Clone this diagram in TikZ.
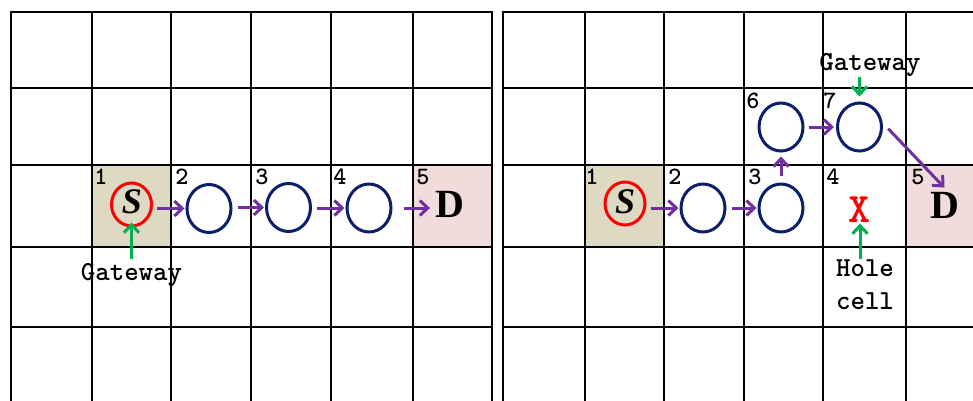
\documentclass[tikz,border=0pt]{standalone}
\usepackage{fontspec}
\setmainfont{Liberation Serif}
\newfontfamily\courfnt{lmmonolt10-bold.otf}
\usetikzlibrary{arrows.meta,shapes.geometric}
\definecolor{tanfill}{HTML}{DDD9C3}
\definecolor{pinkfill}{HTML}{F2DCDB}
\definecolor{navy}{HTML}{0A1F6B}
\definecolor{pathpurple}{HTML}{7030A0}
\definecolor{gwgreen}{HTML}{00B050}
\tikzset{
 gridline/.style={line width=1.7pt, black, line cap=rect},
 hop/.style={ellipse, draw=navy, line width=3pt, minimum width=44pt, minimum height=48pt, inner sep=0pt},
 srcring/.style={ellipse, draw=red, line width=3pt, minimum width=40pt, minimum height=43pt, inner sep=0pt},
 num/.style={anchor=base, font=\courfnt\fontsize{25}{25}\selectfont, inner sep=0pt},
 lbl/.style={font=\courfnt\fontsize{27.5}{33}\selectfont, align=center},
 bigletter/.style={anchor=base, font=\bfseries\fontsize{40}{40}\selectfont},
 sletter/.style={anchor=base, font=\bfseries\itshape\fontsize{36}{36}\selectfont},
 holemark/.style={anchor=base, text=red, font=\courfnt\fontsize{42}{42}\selectfont},
 parr/.style={draw=pathpurple, line width=3pt, -{Straight Barb[length=8pt,width=15pt]}},
 garr/.style={draw=gwgreen, line width=3pt, -{Straight Barb[length=8pt,width=15pt]}},
}
\begin{document}
\begin{tikzpicture}[x=1pt,y=-1pt]
\useasboundingbox (0,0) rectangle (973,400);
\clip (0,0) rectangle (973,400);
\fill[white] (0,0) rectangle (973,400);
% cell fills
\fill[tanfill] (92,165) rectangle (171,247);
\fill[pinkfill] (413,165) rectangle (492,247);
\fill[tanfill] (585,165) rectangle (664,247);
\fill[pinkfill] (906,165) rectangle (980,247);
% left grid
\foreach \x in {11,92,171,251,331,413,492} \draw[gridline] (\x,12) -- (\x,410);
\foreach \y in {12,88,165,247,327} \draw[gridline] (11,\y) -- (492,\y);
% right grid
\foreach \x in {503,585,664,744,823,906} \draw[gridline] (\x,12) -- (\x,410);
\foreach \y in {12,88,165,247,327} \draw[gridline] (503,\y) -- (985,\y);

% ---------- left panel ----------
\node[srcring] (sL) at (131.5,204.5) {};
\node[sletter] (sLt) at (132,213) {S};
\node[hop] (l2) at (209,208.5) {};
\node[hop] (l3) at (288.5,207.5) {};
\node[hop] (l4) at (369,208) {};
\node[bigletter] (lD) at (450,217) {D};
\node[num] (n1L) at (101,184) {1};
\node[num] (n2L) at (182,184) {2};
\node[num] (n3L) at (262,184) {3};
\node[num] (n4L) at (340,184) {4};
\node[num] (n5L) at (423,184) {5};
\node[lbl, anchor=base] (gwL) at (131.5,280) {Gateway};

\draw[parr, shorten <=4pt, shorten >=1pt] (sL.east |- l2.west) -- (l2.west);
\draw[parr, shorten <=5pt, shorten >=1pt] (l2.east |- l3.west) -- (l3.west);
\draw[parr, shorten <=5pt, shorten >=1pt] (l3.east |- l4.west) -- (l4.west);
\draw[parr, shorten <=11pt, shorten >=2pt] (l4.east) -- (lD.west |- l4.east);
\draw[garr, shorten >=-5pt] (gwL.north -| sL.south) -- (sL.south);

% ---------- right panel ----------
\node[srcring] (sR) at (625,203.5) {};
\node[sletter] (sRt) at (625,213) {S};
\node[hop] (r2) at (703,208) {};
\node[hop] (r3) at (781,208) {};
\node[hop] (r6) at (781,127) {};
\node[hop] (r7) at (859.5,127) {};
\node[bigletter] (rD) at (945,218) {D};
\node[holemark] (xm) at (860,222) {X};
\node[num] (n1R) at (592,184) {1};
\node[num] (n2R) at (675,184) {2};
\node[num] (n3R) at (755,184) {3};
\node[num] (n4R) at (833,184) {4};
\node[num] (n5R) at (918,184) {5};
\node[num] (n6R) at (753,108) {6};
\node[num] (n7R) at (830,108) {7};
\node[lbl, anchor=base] (gwR) at (870,70) {Gateway};
\node[lbl, anchor=north] (hole) at (865,256) {Hole\\cell};

\draw[parr, shorten <=4pt, shorten >=1pt] (sR.east |- r2.west) -- (r2.west);
\draw[parr, shorten <=5pt, shorten >=1pt] (r2.east) -- (r3.west);
\draw[parr, shorten <=7pt, shorten >=4pt] (r3.north) -- (r6.south);
\draw[parr, shorten <=4pt, shorten >=2pt] (r6.east) -- (r7.west);
\draw[parr, shorten <=8pt, shorten >=1pt] (r7.10) -- (rD.north);
\draw[garr, shorten <=-3pt, shorten >=5pt] (r7.north |- gwR.south) -- (r7.north);
\draw[garr, shorten <=-3pt, shorten >=-2pt] (hole.north -| xm.south) -- (xm.south);
\end{tikzpicture}
\end{document}
